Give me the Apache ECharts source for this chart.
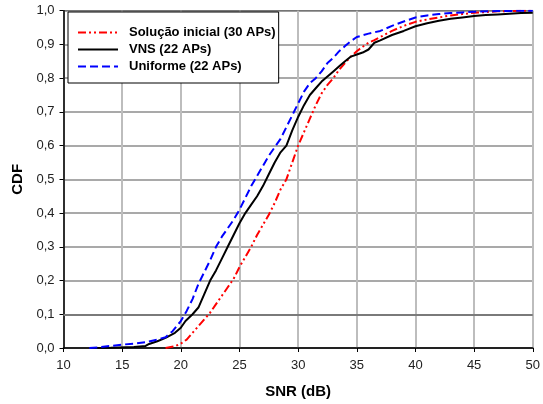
<!DOCTYPE html>
<html>
<head>
<meta charset="utf-8">
<script src="https://cdn.jsdelivr.net/npm/echarts@6/dist/echarts.min.js"></script>
<style>
  html, body { margin: 0; padding: 0; background: #fff; }
  #chart { width: 543px; height: 404px; }
</style>
</head>
<body>
<div id="chart"></div>
<script>
// CDF do SNR para as três configurações de APs
const solucaoX = [18.7, 19.5, 20, 20.5, 21, 21.5, 22, 22.5, 23, 23.5, 24, 24.5, 25, 25.5, 26, 26.5, 27, 27.5, 28, 28.5, 29, 29.5, 30, 30.5, 31, 31.5, 32, 32.5, 33, 33.5, 34, 34.5, 35, 35.5, 36, 36.5, 37, 38, 39, 40, 41, 42, 43, 44, 45, 46, 47, 48, 49, 50];
const solucaoY = [0, 0.005, 0.013, 0.025, 0.045, 0.065, 0.085, 0.105, 0.13, 0.155, 0.18, 0.205, 0.24, 0.27, 0.30, 0.335, 0.365, 0.395, 0.43, 0.47, 0.50, 0.55, 0.60, 0.64, 0.68, 0.72, 0.755, 0.78, 0.80, 0.825, 0.845, 0.864, 0.88, 0.893, 0.905, 0.913, 0.922, 0.94, 0.955, 0.967, 0.974, 0.98, 0.986, 0.99, 0.994, 0.996, 0.998, 0.999, 1.0, 1.0];

const vnsX = [12.3, 14, 16, 17, 17.3, 18, 18.7, 19.5, 20, 20.4, 21, 21.5, 22, 22.5, 23, 23.5, 24, 24.5, 25, 25.5, 26, 26.5, 27, 27.5, 28, 28.5, 29, 29.5, 30, 30.5, 31, 31.5, 32, 32.5, 33, 33.5, 34, 34.5, 35, 35.5, 36, 36.5, 37, 38, 39, 40, 41, 42, 43, 44, 45, 46, 47, 48, 49, 50];
const vnsY = [0, 0.001, 0.003, 0.006, 0.012, 0.02, 0.03, 0.045, 0.06, 0.08, 0.10, 0.12, 0.16, 0.20, 0.23, 0.265, 0.30, 0.335, 0.37, 0.40, 0.425, 0.45, 0.48, 0.515, 0.55, 0.58, 0.60, 0.645, 0.685, 0.72, 0.75, 0.77, 0.79, 0.805, 0.82, 0.835, 0.85, 0.864, 0.87, 0.876, 0.885, 0.905, 0.912, 0.928, 0.94, 0.954, 0.963, 0.97, 0.976, 0.98, 0.984, 0.987, 0.989, 0.991, 0.993, 0.994];

const uniformeX = [12.2, 13, 14, 15, 16, 17, 18, 18.7, 19.3, 20, 20.5, 21, 21.5, 22, 22.5, 23, 23.5, 24, 24.5, 25, 25.5, 26, 26.5, 27, 27.5, 28, 28.5, 29, 29.5, 30, 30.5, 31, 31.5, 32, 32.5, 33, 33.5, 34, 34.5, 35, 36, 37, 38, 39, 40, 41, 42, 43, 44, 45, 47, 50];
const uniformeY = [0, 0.002, 0.006, 0.01, 0.013, 0.017, 0.025, 0.032, 0.05, 0.08, 0.11, 0.145, 0.19, 0.225, 0.26, 0.30, 0.33, 0.355, 0.38, 0.41, 0.445, 0.48, 0.51, 0.54, 0.57, 0.595, 0.62, 0.655, 0.69, 0.725, 0.76, 0.785, 0.80, 0.82, 0.845, 0.86, 0.88, 0.895, 0.91, 0.922, 0.932, 0.94, 0.955, 0.968, 0.98, 0.986, 0.99, 0.993, 0.995, 0.997, 0.999, 1.0];

const zip = (xs, ys) => xs.map((x, i) => [x, ys[i]]);

const chart = echarts.init(document.getElementById("chart"));

const fonte = "'Liberation Sans', Arial, sans-serif";

chart.setOption({
    animation: false,
    backgroundColor: "#fff",
    textStyle: { fontFamily: fonte },
    grid: {
        left: 63.5, right: 6, top: 10.7, bottom: 54.7,
        show: true, borderColor: "#000", borderWidth: 1
    },
    legend: {
        orient: "vertical",
        left: 68, top: 12,
        backgroundColor: "#fff",
        borderColor: "#000",
        borderWidth: 1,
        padding: [14, 3, 10, 9],
        itemWidth: 40,
        itemHeight: 14,
        itemGap: 4,
        // só a linha no ícone, sem o círculo
        itemStyle: { color: "transparent", borderWidth: 0, opacity: 0 },
        textStyle: { fontFamily: fonte, fontSize: 13, fontWeight: "bold", color: "#000", padding: [0, 0, 0, 6] }
    },
    xAxis: {
        type: "value",
        min: 10, max: 50, interval: 5,
        name: "SNR (dB)",
        nameLocation: "middle",
        nameGap: 36,
        nameTextStyle: { fontFamily: fonte, fontSize: 15, fontWeight: "bold", color: "#000" },
        axisLine: { lineStyle: { color: "#000", width: 1.5 } },
        axisTick: { show: true, length: 4, lineStyle: { color: "#000" } },
        axisLabel: { fontFamily: fonte, fontSize: 13, color: "#222", margin: 11 },
        splitLine: { show: true, lineStyle: { color: "#bdbdbd", width: 2 } }
    },
    yAxis: {
        type: "value",
        min: 0, max: 1, interval: 0.1,
        name: "CDF",
        nameLocation: "middle",
        nameGap: 37,
        nameTextStyle: { fontFamily: fonte, fontSize: 15, fontWeight: "bold", color: "#000" },
        axisLine: { show: true, lineStyle: { color: "#000", width: 1.5 } },
        axisTick: { show: true, length: 4, lineStyle: { color: "#000" } },
        axisLabel: {
            fontFamily: fonte, fontSize: 13, color: "#222", margin: 9,
            formatter: (v) => v.toFixed(1).replace(".", ",")
        },
        splitLine: { show: true, lineStyle: { color: "#8c8c8c", width: 1.5 } }
    },
    series: [
        {
            name: "Solução inicial (30 APs)",
            type: "line",
            data: zip(solucaoX, solucaoY),
            showSymbol: false, symbol: "none",
            lineStyle: { color: "#ff0000", width: 2, type: [8, 3, 2, 3, 2, 3] },
            itemStyle: { color: "#ff0000" },
            z: 3,
            markLine: {
                silent: true, symbol: "none", label: { show: false },
                lineStyle: { color: "#7a7a7a", width: 2, type: "solid" },
                data: [{ yAxis: 0.1 }],
                z: 1
            }
        },
        {
            name: "VNS (22 APs)",
            type: "line",
            data: zip(vnsX, vnsY),
            showSymbol: false, symbol: "none",
            lineStyle: { color: "#000", width: 2, type: "solid" },
            itemStyle: { color: "#000" },
            z: 4
        },
        {
            name: "Uniforme (22 APs)",
            type: "line",
            data: zip(uniformeX, uniformeY),
            showSymbol: false, symbol: "none",
            lineStyle: { color: "#0000ff", width: 2, type: [8, 4] },
            itemStyle: { color: "#0000ff" },
            z: 5
        }
    ]
});
</script>
</body>
</html>
